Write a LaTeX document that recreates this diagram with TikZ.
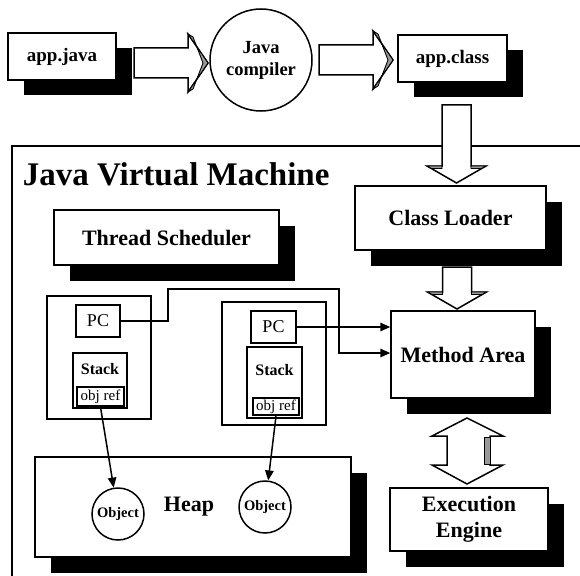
\documentclass[tikz,border=0pt]{standalone}
\usepackage{fontspec}
\setmainfont{Liberation Serif}
\usetikzlibrary{arrows.meta}
\usetikzlibrary{shadows}
\usetikzlibrary{positioning}

\begin{document}
\begin{tikzpicture}[x=1pt, y=-1pt, line width=1.5pt]
	\tikzstyle{box}=[rectangle, draw, fill=white, inner sep=0pt, align=center,
	                        font=\bfseries\fontsize{22}{26}\selectfont,
	                        drop shadow={shadow xshift=15.5pt, shadow yshift=-15.5pt, fill=black, opacity=1}];
	\tikzstyle{part}=[rectangle, draw, fill=white, inner sep=0pt];
	\tikzstyle{obj}=[circle, draw, fill=white, inner sep=0pt, minimum size=52pt,
	                        font=\bfseries\fontsize{14.5}{16}\selectfont];
	\tikzstyle{blk}=[draw, fill=white, line join=miter];
	\tikzstyle{bevel}=[draw, fill=black!40, line width=0.9pt];
	\tikzstyle{ptr}=[-{Triangle[length=10pt, width=8.5pt]}];
	\useasboundingbox (0,0) rectangle (580,575);
	\clip (0,0) rectangle (580,575);
	\draw (12,146) rectangle (620,620);
	\node[anchor=base west, inner sep=0pt, font=\bfseries\fontsize{33}{36}\selectfont] (jvm) at (22,185) {Java Virtual Machine};
	\node[box, minimum width=108pt, minimum height=47pt, font=\bfseries\fontsize{19}{22}\selectfont] (java) at (62,56.5) {app.java};
	\node[circle, draw, fill=white, minimum size=102pt, inner sep=0pt, align=center,
	      font=\bfseries\fontsize{18.5}{22}\selectfont] (comp) at (261,60) {Java\\compiler};
	\node[box, minimum width=109pt, minimum height=47pt, font=\bfseries\fontsize{19}{22}\selectfont] (class) at (452.5,58.5) {app.class};
	\node[box, minimum width=225pt, minimum height=55pt] (sched) at (166.5,237.5) {Thread Scheduler};
	\node[box, minimum width=191pt, minimum height=64pt] (loader) at (450.5,218) {Class Loader};
	\node[box, minimum width=144pt, minimum height=87pt] (method) at (463,354.5) {Method Area};
	\node[box, minimum width=158pt, minimum height=63pt] (engine) at (469,519.5) {Execution\\Engine};
	\node[box, minimum width=316pt, minimum height=100pt, text width=300pt] (heap) at (193,507) {\hspace*{-8pt}Heap};
	\node[part, minimum width=104pt, minimum height=123pt] (thr1) at (99,357.5) {};
	\node[part, minimum width=104pt, minimum height=123pt] (thr2) at (274,363.5) {};
	\node[part, minimum width=44pt, minimum height=32pt, font=\fontsize{18}{20}\selectfont] (pc1) at (98,321) {PC};
	\node[part, minimum width=45pt, minimum height=32pt, font=\fontsize{18}{20}\selectfont] (pc2) at (273.5,327) {PC};
	\node[part, minimum width=54pt, minimum height=55pt] (stk1) at (100,380.5) {};
	\node[part, minimum width=55pt, minimum height=71pt] (stk2) at (274.5,382.5) {};
	\node[below=10pt of stk1.north, inner sep=0pt, font=\bfseries\fontsize{16}{18}\selectfont] (lbl1) {Stack};
	\node[below=17pt of stk2.north, inner sep=0pt, font=\bfseries\fontsize{16}{18}\selectfont] (lbl2) {Stack};
	\node[part, line width=2.2pt, minimum width=47pt, minimum height=19pt, font=\fontsize{15}{16}\selectfont] (ref1) at (100.5,396.5) {obj ref};
	\node[part, line width=2.2pt, minimum width=46pt, minimum height=17pt, font=\fontsize{15}{16}\selectfont] (ref2) at (276,406.5) {obj ref};
	\node[obj] (obj1) at (118,514) {Object};
	\node[obj] (obj2) at (265,507) {Object};
	\coordinate (b1) at (168,289);
	\coordinate (b2) at (339,289);
	\coordinate (b3) at (339,353);
	\draw[ptr] (pc1.east) -- (pc1.east -| b1) -- (b1) -- (b2) -- (b3) -- (b3 -| method.west);
	\draw[ptr] (pc2.east) -- (pc2.east -| method.west);
	\draw[ptr] (ref1.south) -- (obj1);
	\draw[ptr] (ref2.south) -- (obj2);
	\foreach \x/\y in {134/63, 319/60}
	{\filldraw[blk] (\x,\y-15) -- (\x+54,\y-15) -- (\x+54,\y-29) -- (\x+74,\y)
		-- (\x+54,\y+29) -- (\x+54,\y+15) -- (\x,\y+15) -- cycle;
	\filldraw[bevel] (\x+54,\y-29) -- (\x+74,\y) -- (\x+54,\y+29)
		-- (\x+59,\y+26) -- (\x+69,\y) -- (\x+59,\y-26) -- cycle;}
	\foreach \x/\a/\b in {456.5/105/166, 457/267/292}
	{\filldraw[blk] (\x-14.5,\a) -- (\x-14.5,\b) -- (\x-29.5,\b) -- (\x,\b+17)
		-- (\x+29.5,\b) -- (\x+14.5,\b) -- (\x+14.5,\a) -- cycle;
	\filldraw[bevel] (\x-29.5,\b) -- (\x-14.5,\b) -- (\x-14.5,\b+2.5) -- (\x-25,\b+2.5) -- cycle;
	\filldraw[bevel] (\x+29.5,\b) -- (\x+14.5,\b) -- (\x+14.5,\b+2.5) -- (\x+25,\b+2.5) -- cycle;}
	\filldraw[blk] (467,418) -- (503,436) -- (490,436) -- (490,465) -- (503,465) -- (467,484)
		-- (432,465) -- (447,465) -- (447,436) -- (432,436) -- cycle;
	\filldraw[bevel] (484,437) rectangle (490,464);
\end{tikzpicture}
\end{document}
